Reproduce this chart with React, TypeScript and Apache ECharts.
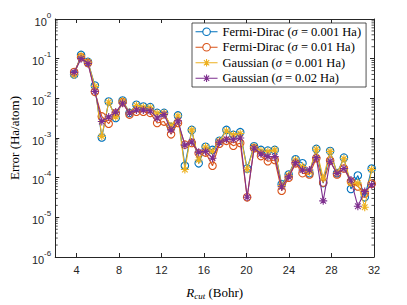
import React, { useEffect, useRef } from "react";
import * as echarts from "echarts";

const RCUT = [3.78, 4.43, 5.08, 5.73, 6.38, 7.03, 7.69, 8.34, 8.99, 9.64, 10.29, 10.94, 11.59, 12.24, 12.9, 13.55, 14.2, 14.85, 15.5, 16.15, 16.8, 17.45, 18.11, 18.76, 19.41, 20.06, 20.71, 21.36, 22.01, 22.66, 23.31, 23.97, 24.62, 25.27, 25.92, 26.57, 27.22, 27.87, 28.52, 29.17, 29.83, 30.48, 31.13, 31.78];

const FD_0001 = [0.040, 0.124, 0.083, 0.021, 0.00103, 0.0083, 0.0032, 0.0088, 0.0043, 0.0069, 0.0062, 0.0060, 0.0043, 0.0043, 0.0019, 0.0037, 0.00020, 0.0016, 0.00023, 0.00060, 0.00050, 0.00085, 0.0016, 0.0012, 0.0014, 0.00017, 0.00062, 0.00050, 0.00048, 0.00050, 6.8e-5, 0.00012, 0.00029, 0.00023, 0.00013, 0.00053, 7.3e-5, 0.00047, 0.00013, 0.00032, 5.2e-5, 0.000113, 3.2e-5, 0.00017];
const FD_001 = [0.046, 0.108, 0.078, 0.0146, 0.0035, 0.0023, 0.0042, 0.0080, 0.0039, 0.0046, 0.0046, 0.0043, 0.0024, 0.0026, 0.00124, 0.0024, 0.00068, 0.00075, 0.00041, 0.00043, 0.00020, 0.00072, 0.00085, 0.00064, 0.00075, 3.2e-5, 0.00055, 0.00035, 0.00026, 0.00028, 4.7e-5, 0.0001, 0.00023, 0.00013, 0.00012, 0.00031, 7.5e-5, 0.00027, 0.00012, 0.00017, 8e-5, 6e-5, 4e-5, 7e-5];
const G_0001 = [0.039, 0.118, 0.082, 0.020, 0.0011, 0.0080, 0.0034, 0.0086, 0.0044, 0.0066, 0.0060, 0.0058, 0.0042, 0.0042, 0.0020, 0.0036, 0.00016, 0.0016, 0.00028, 0.00059, 0.00046, 0.00084, 0.0015, 0.0012, 0.0013, 0.00016, 0.00060, 0.00047, 0.00046, 0.00050, 6.3e-5, 0.000115, 0.00028, 0.00019, 0.00014, 0.00052, 9.7e-5, 0.00046, 0.00013, 0.00030, 7.3e-5, 7.3e-5, 1.8e-5, 0.00016];
const G_002 = [0.045, 0.100, 0.076, 0.015, 0.0026, 0.0034, 0.0045, 0.0075, 0.0043, 0.0051, 0.0051, 0.0048, 0.0032, 0.0039, 0.0016, 0.0027, 0.00066, 0.00079, 0.00044, 0.00046, 0.00031, 0.00078, 0.00093, 0.00093, 0.0010, 3.2e-5, 0.00056, 0.00040, 0.00034, 0.00034, 5.9e-5, 0.000105, 0.00024, 0.000156, 0.000156, 0.00032, 2.6e-5, 0.00026, 0.000128, 0.00017, 8.7e-5, 1.9e-5, 4.5e-5, 6.6e-5];

const SERIES_NAMES = [
  "Fermi-Dirac (σ = 0.001 Ha)",
  "Fermi-Dirac (σ = 0.01 Ha)",
  "Gaussian (σ = 0.001 Ha)",
  "Gaussian (σ = 0.02 Ha)",
];
const X_TICKS = [4, 8, 12, 16, 20, 24, 28, 32];
const X_MIN = 2;
const X_MAX = 32;
const Y_MIN = 1e-6;
const Y_MAX = 1;

const COLORS = ["#0072BD", "#D95319", "#EDB120", "#7E2F8E"];
const AXIS_COLOR = "#262626";
const STAR = "path://M0,-1L0,1M-1,0L1,0M-0.7,-0.7L0.7,0.7M-0.7,0.7L0.7,-0.7";
const LEGEND_CIRCLE =
  "path://M0,4L7.25,4M14.75,4L22,4M14.75,4A3.75,3.75 0 1 1 7.25,4A3.75,3.75 0 1 1 14.75,4M0,0.25L0,0.25M22,7.75L22,7.75";
const LEGEND_STAR =
  "path://M0,4L22,4M11,0.25L11,7.75M7.25,4L14.75,4M8.35,1.35L13.65,6.65M8.35,6.65L13.65,1.35";

function minorTickValues(): number[][] {
  const out: number[][] = [];
  for (let k = -6; k < 0; k++) {
    for (let m = 2; m <= 9; m++) out.push([X_MIN, m * Math.pow(10, k)]);
  }
  return out;
}

export default function App() {
  const ref = useRef<HTMLDivElement>(null);
  useEffect(() => {
    if (!ref.current) return;
    const chart = echarts.init(ref.current, null, { renderer: "svg" });
    const datasets = [FD_0001, FD_001, G_0001, G_002];
    const itemStyleFor = (i: number) =>
      i >= 2
        ? { color: COLORS[i], borderColor: COLORS[i], borderWidth: 1.1 }
        : { color: "rgba(0,0,0,0)", borderColor: COLORS[i], borderWidth: 1.1 };
    const lineSeries = datasets.map((vals, i) => {
      const star = i >= 2;
      return {
        type: "line",
        name: SERIES_NAMES[i],
        data: RCUT.map((x, j) => [x, vals[j]]),
        showAllSymbol: true,
        symbol: star ? STAR : "circle",
        symbolSize: star ? 8 : 7.5,
        lineStyle: { color: COLORS[i], width: 1.1 },
        itemStyle: itemStyleFor(i),
        z: 3 + i,
      };
    });
    const option: any = {
      animation: false,
      grid: { left: 54, right: 33, top: 19, bottom: 43, show: false },
      legend: {
        orient: "vertical",
        left: 192,
        top: 23,
        padding: [2, 5, 2, 3],
        itemGap: 2,
        itemWidth: 22,
        itemHeight: 7.5,
        backgroundColor: "#ffffff",
        borderColor: "#262626",
        borderWidth: 0.8,
        data: SERIES_NAMES.map((n, i) => ({
          name: n,
          icon: i >= 2 ? LEGEND_STAR : LEGEND_CIRCLE,
          itemStyle: { color: "rgba(0,0,0,0)", borderColor: COLORS[i], borderWidth: 1.1 },
        })),
        formatter: (name: string) => name.replace("σ", "{i|σ}"),
        textStyle: {
          fontFamily: "Liberation Serif",
          fontSize: 12.5,
          color: "#000",
          lineHeight: 13.5,
          rich: {
            i: { fontFamily: "Liberation Serif", fontStyle: "italic", fontSize: 12.5, color: "#000" },
          },
        },
      },
      xAxis: [
        {
          type: "value",
          min: X_MIN,
          max: X_MAX,
          position: "bottom",
          axisLine: { show: true, onZero: false, lineStyle: { color: AXIS_COLOR, width: 1 } },
          axisTick: { show: true, inside: true, length: 4, customValues: X_TICKS, lineStyle: { color: AXIS_COLOR } },
          axisLabel: {
            customValues: X_TICKS,
            color: AXIS_COLOR,
            fontSize: 11,
            fontFamily: "Liberation Sans",
            margin: 7,
          },
          splitLine: { show: false },
          name: "{r|R}{c|cut}{n| (Bohr)}",
          nameLocation: "middle",
          nameGap: 28,
          nameTextStyle: {
            rich: {
              r: { fontFamily: "Liberation Serif", fontStyle: "italic", fontSize: 13, color: "#000" },
              c: { fontFamily: "Liberation Serif", fontStyle: "italic", fontSize: 9, color: "#000", verticalAlign: "bottom", padding: [6, 0, 0, 0] },
              n: { fontFamily: "Liberation Serif", fontSize: 13, color: "#000" },
            },
          },
        },
        {
          type: "value",
          min: X_MIN,
          max: X_MAX,
          position: "top",
          axisLine: { show: true, onZero: false, lineStyle: { color: AXIS_COLOR, width: 1 } },
          axisTick: { show: true, inside: true, length: 4, customValues: X_TICKS, lineStyle: { color: AXIS_COLOR } },
          axisLabel: { show: false },
          splitLine: { show: false },
        },
      ],
      yAxis: [
        {
          type: "log",
          logBase: 10,
          min: Y_MIN,
          max: Y_MAX,
          position: "left",
          axisLine: { show: true, onZero: false, lineStyle: { color: AXIS_COLOR, width: 1 } },
          axisTick: { show: true, inside: true, length: 4, lineStyle: { color: AXIS_COLOR } },
          axisLabel: {
            margin: 4,
            formatter: (v: number) => `{b|10}{s|${Math.round(Math.log10(v))}}`,
            rich: {
              b: { fontFamily: "Liberation Sans", fontSize: 11, color: AXIS_COLOR, verticalAlign: "bottom", padding: [5, 0, 0, 0] },
              s: { fontFamily: "Liberation Sans", fontSize: 8, color: AXIS_COLOR, verticalAlign: "top", padding: [0, 0, 5, 0] },
            },
          },
          splitLine: { show: false },
          name: "Error (Ha/atom)",
          nameLocation: "middle",
          nameGap: 32,
          nameTextStyle: { fontFamily: "Liberation Serif", fontSize: 13, color: "#000" },
        },
        {
          type: "log",
          logBase: 10,
          min: Y_MIN,
          max: Y_MAX,
          position: "right",
          axisLine: { show: true, onZero: false, lineStyle: { color: AXIS_COLOR, width: 1 } },
          axisTick: { show: true, inside: true, length: 4, lineStyle: { color: AXIS_COLOR } },
          axisLabel: { show: false },
          splitLine: { show: false },
        },
      ],
      series: [
        {
          type: "custom",
          coordinateSystem: "cartesian2d",
          xAxisIndex: 0,
          yAxisIndex: 0,
          silent: true,
          clip: false,
          data: minorTickValues(),
          renderItem: (params: any, api: any) => {
            const v = api.value(1);
            const pL = api.coord([X_MIN, v]);
            const pR = api.coord([X_MAX, v]);
            const style = { stroke: AXIS_COLOR, lineWidth: 0.8 };
            return {
              type: "group",
              children: [
                { type: "line", shape: { x1: pL[0], y1: pL[1], x2: pL[0] + 2.5, y2: pL[1] }, style },
                { type: "line", shape: { x1: pR[0], y1: pR[1], x2: pR[0] - 2.5, y2: pR[1] }, style },
              ],
            };
          },
          z: 1,
        },
        ...lineSeries,
      ],
    };
    chart.setOption(option);
    return () => chart.dispose();
  }, []);
  return <div ref={ref} style={{ width: 407, height: 305, marginLeft: -8, marginTop: -8 }} />;
}
